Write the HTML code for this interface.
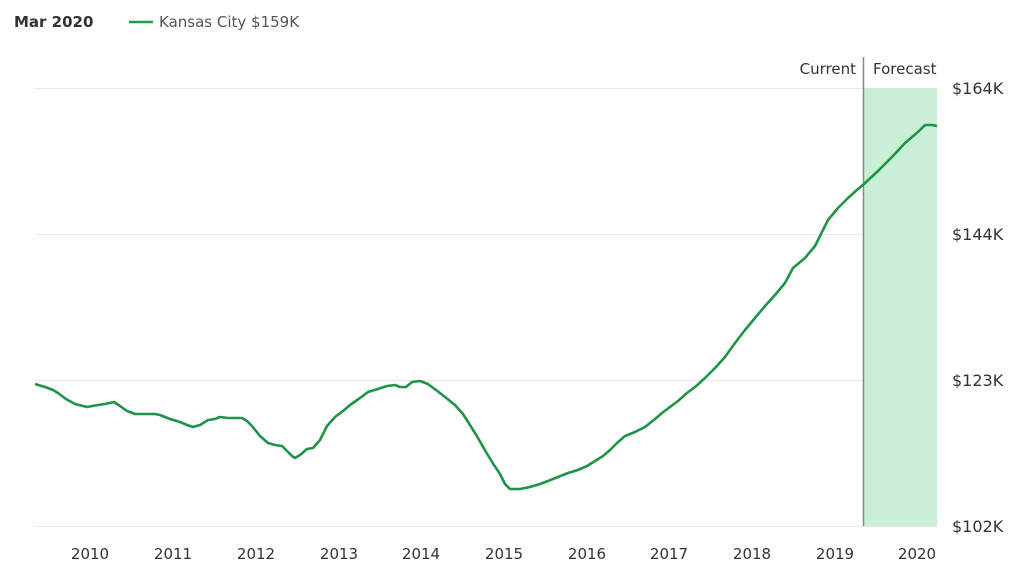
<!DOCTYPE html>
<html><head><style>
body{margin:0;background:#fff;width:1024px;height:580px;overflow:hidden;font-family:"Open Sans","DejaVu Sans","Liberation Sans",sans-serif}
</style></head><body>
<svg width="1024" height="580" viewBox="0 0 1024 580" xmlns="http://www.w3.org/2000/svg" font-family="'DejaVu Sans','Liberation Sans',sans-serif">
<text x="14" y="27" font-size="15" font-weight="bold" fill="#333">Mar 2020</text>
<line x1="129" y1="22" x2="153" y2="22" stroke="#1e9e4a" stroke-width="2.5"/>
<text x="159" y="27" font-size="15" fill="#555">Kansas City $159K</text>
<g stroke="#e8e8e8" stroke-width="1">
<line x1="35" y1="88.5" x2="937" y2="88.5"/>
<line x1="35" y1="234.5" x2="937" y2="234.5"/>
<line x1="35" y1="380.5" x2="937" y2="380.5"/>
<line x1="35" y1="526.5" x2="937" y2="526.5"/>
</g>
<rect x="864" y="88" width="73" height="438" fill="#c9f0d6"/>
<line x1="863.5" y1="57" x2="863.5" y2="526" stroke="#888" stroke-width="1.5"/>
<text x="856" y="74" font-size="15" fill="#333" text-anchor="end">Current</text>
<text x="873" y="74" font-size="15" fill="#333">Forecast</text>
<g font-size="16" fill="#333">
<text x="952" y="94">$164K</text>
<text x="952" y="240">$144K</text>
<text x="952" y="386">$123K</text>
<text x="952" y="532">$102K</text>
</g>
<g font-size="15" fill="#333" text-anchor="middle">
<text x="90" y="559">2010</text><text x="173" y="559">2011</text><text x="256" y="559">2012</text>
<text x="339" y="559">2013</text><text x="421" y="559">2014</text><text x="504" y="559">2015</text>
<text x="587" y="559">2016</text><text x="669" y="559">2017</text><text x="752" y="559">2018</text>
<text x="835" y="559">2019</text><text x="917" y="559">2020</text>
</g>
<polyline fill="none" stroke="#1e9448" stroke-width="2.6" stroke-linejoin="round" points="35,384 45,387 53,390 58,393 66,399 75,404 87,407 98,405 105,404 114,402 120,406 127,411 135,414 155,414 160,415 170,419 180,422 187,425 193,427 200,425 208,420 215,419 220,417 228,418 242,418 247,421 252,426 260,436 268,443 275,445 282,446 287,451 292,456 295,458 300,455 307,449 313,448 320,440 327,426 335,417 343,411 350,405 360,398 368,392 378,389 387,386 395,385 400,387 406,387 412,382 420,381 428,384 436,390 445,397 455,405 463,414 470,425 478,438 486,452 494,465 500,474 505,484 510,489 520,489 530,487 540,484 548,481 558,477 568,473 578,470 587,466 595,461 603,456 610,450 617,443 625,436 635,432 645,427 655,419 662,413 670,407 678,401 687,393 695,387 705,378 715,368 725,357 735,343 745,330 755,318 765,306 775,295 785,283 793,268 805,258 815,246 823,230 828,220 838,208 848,198 858,189 864,184 878,171 892,157 905,143 918,132 925,125 932,125 937,126"/>
</svg>
</body></html>
